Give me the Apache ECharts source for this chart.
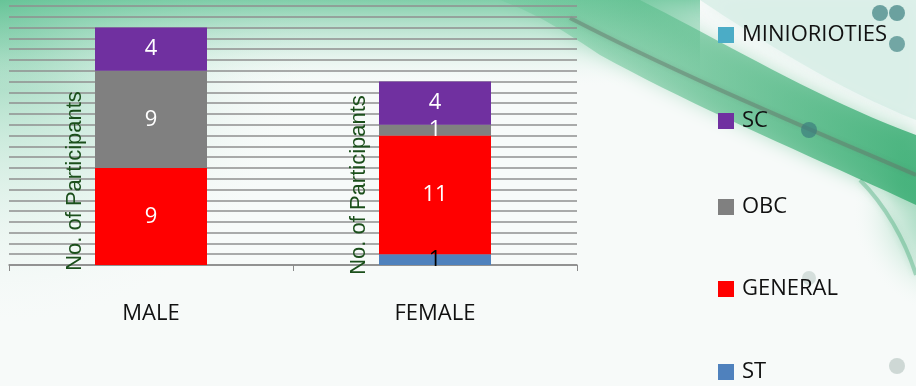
<!DOCTYPE html>
<html><head><meta charset="utf-8">
<script src="https://cdn.jsdelivr.net/npm/echarts@6/dist/echarts.min.js"></script>
<style>html,body{margin:0;padding:0;background:#fff}#c{width:916px;height:386px}</style>
</head><body><div id="c"></div>
<script>
var categories = ['MALE', 'FEMALE'];
var stVals = [0, 1];
var generalVals = [9, 11];
var obcVals = [9, 1];
var scVals = [4, 4];
var minorityVals = [0, 0];
var yTicks = {min: 0, max: 24, interval: 1};
var axisTitle = 'No. of Participants';
var legendTop = ['MINIORIOTIES', 'SC', 'OBC'];
var legendBottom = ['GENERAL', 'ST'];

// decorative background helper: sample cubic bezier segments into polygon points
function bez(p0, c1, c2, p1, n) {
  var pts = [];
  for (var i = 0; i <= n; i++) {
    var t = i / n, u = 1 - t;
    pts.push([u*u*u*p0[0] + 3*u*u*t*c1[0] + 3*u*t*t*c2[0] + t*t*t*p1[0],
              u*u*u*p0[1] + 3*u*u*t*c1[1] + 3*u*t*t*c2[1] + t*t*t*p1[1]]);
  }
  return pts;
}
var swoosh = [[520,0],[640,0]].concat(bez([640,0],[720,40],[820,100],[916,135],20))
  .concat([[916,205]]).concat(bez([916,205],[820,160],[700,110],[600,55],20))
  .concat(bez([600,55],[570,35],[540,15],[500,0],10));
var topRight = [[700,0],[916,0],[916,120]].concat(bez([916,120],[840,90],[760,40],[700,0],16));

var chart = echarts.init(document.getElementById('c'), null, {renderer: 'canvas'});
function lbl(color) {
  return {show: true, position: 'inside', color: color, fontSize: 22,
    fontFamily: 'Open Sans, sans-serif',
    formatter: function (p) { return p.value ? String(p.value) : ''; }};
}
function ser(name, data, color, lc) {
  return {name: name, type: 'bar', stack: 'a', data: data, barWidth: 112,
    itemStyle: {color: color}, label: lbl(lc || '#fff'), emphasis: {disabled: true}};
}
function legend(names, top, gap) {
  return {orient: 'vertical', left: 718, top: top, padding: 0, itemWidth: 16, itemHeight: 16, itemGap: gap,
    icon: 'rect', selectedMode: false,
    textStyle: {fontSize: 22, color: '#111', fontFamily: 'Open Sans, sans-serif', padding: [0, 0, 0, 3]},
    data: names};
}
var titleStyle = {text: axisTitle, fill: '#1b4f1b', font: '22px "Liberation Sans", Arial, sans-serif',
  align: 'center', verticalAlign: 'middle', shadowColor: 'rgba(0,0,0,0.3)', shadowBlur: 2, shadowOffsetX: 1, shadowOffsetY: 1};
var option = {
  animation: false,
  backgroundColor: '#f7faf9',
  graphic: [
    {type: 'rect', z: -10, silent: true, shape: {x: 0, y: 0, width: 916, height: 386},
      style: {fill: {type: 'radial', x: 0, y: 0, r: 340, global: true,
        colorStops: [{offset: 0, color: 'rgba(80,185,135,0.8)'}, {offset: 0.4, color: 'rgba(150,215,185,0.45)'}, {offset: 1, color: 'rgba(255,255,255,0)'}]}}},
    {type: 'rect', z: -10, silent: true, shape: {x: 0, y: 0, width: 700, height: 90},
      style: {fill: {type: 'linear', x: 0, y: 0, x2: 0, y2: 1,
        colorStops: [{offset: 0, color: 'rgba(100,195,150,0.8)'}, {offset: 0.5, color: 'rgba(150,215,185,0.35)'}, {offset: 1, color: 'rgba(255,255,255,0)'}]}}},
    {type: 'rect', z: -10, silent: true, shape: {x: 780, y: 150, width: 136, height: 200},
      style: {fill: {type: 'radial', x: 960, y: 210, r: 110, global: true,
        colorStops: [{offset: 0, color: 'rgba(60,175,120,0.8)'}, {offset: 0.6, color: 'rgba(120,200,160,0.3)'}, {offset: 1, color: 'rgba(255,255,255,0)'}]}}},
    {type: 'polygon', z: -9, silent: true, shape: {points: topRight},
      style: {fill: 'rgba(215,238,230,0.8)', shadowBlur: 20, shadowColor: 'rgba(215,238,230,0.8)'}},
    {type: 'polygon', z: -9, silent: true, shape: {points: swoosh},
      style: {fill: {type: 'linear', x: 0, y: 0, x2: 1, y2: 0,
        colorStops: [{offset: 0, color: 'rgba(110,200,155,0.35)'}, {offset: 0.5, color: 'rgba(70,180,125,0.55)'}, {offset: 1, color: 'rgba(50,170,110,0.8)'}]},
        shadowBlur: 18, shadowColor: 'rgba(80,185,130,0.6)'}},
    {type: 'bezierCurve', z: -8, silent: true,
      shape: {x1: 570, y1: 18, cpx1: 680, cpy1: 75, cpx2: 800, cpy2: 125, x2: 916, y2: 175},
      style: {fill: null, stroke: 'rgba(100,115,105,0.45)', lineWidth: 4, shadowBlur: 4, shadowColor: 'rgba(100,115,105,0.4)'}},
    {type: 'bezierCurve', z: -8, silent: true,
      shape: {x1: 860, y1: 180, cpx1: 885, cpy1: 205, cpx2: 905, cpy2: 240, x2: 916, y2: 275},
      style: {fill: null, stroke: 'rgba(50,160,105,0.35)', lineWidth: 4, shadowBlur: 6, shadowColor: 'rgba(50,160,105,0.4)'}},
    {type: 'circle', z: -7, silent: true, shape: {cx: 880, cy: 13, r: 8}, style: {fill: 'rgba(70,135,135,0.75)'}},
    {type: 'circle', z: -7, silent: true, shape: {cx: 897, cy: 13, r: 8}, style: {fill: 'rgba(70,135,135,0.75)'}},
    {type: 'circle', z: -7, silent: true, shape: {cx: 897, cy: 44, r: 8}, style: {fill: 'rgba(70,135,135,0.7)'}},
    {type: 'circle', z: -7, silent: true, shape: {cx: 809, cy: 130, r: 8}, style: {fill: 'rgba(60,125,125,0.7)'}},
    {type: 'circle', z: -7, silent: true, shape: {cx: 809, cy: 278, r: 7}, style: {fill: 'rgba(190,205,200,0.6)'}},
    {type: 'circle', z: -7, silent: true, shape: {cx: 897, cy: 366, r: 8}, style: {fill: 'rgba(195,208,204,0.8)'}},
    {type: 'text', z: 50, silent: true, x: 75, y: 181, rotation: Math.PI / 2, style: titleStyle},
    {type: 'text', z: 50, silent: true, x: 359, y: 185, rotation: Math.PI / 2, style: titleStyle}
  ],
  legend: [legend(legendTop, 24, 64), legend(legendBottom, 278, 61)],
  grid: {left: 9, right: 339, top: 6, bottom: 121, containLabel: false},
  xAxis: {type: 'category', data: categories,
    axisLine: {lineStyle: {color: '#8a8a8a', width: 1.5}},
    axisTick: {show: true, length: 6, lineStyle: {color: '#8a8a8a'}},
    axisLabel: {fontSize: 22, color: '#111', fontFamily: 'Open Sans, sans-serif', margin: 38}},
  yAxis: {type: 'value', min: yTicks.min, max: yTicks.max, interval: yTicks.interval,
    axisLabel: {show: false}, axisLine: {show: false}, axisTick: {show: false},
    splitLine: {lineStyle: {color: '#8f8f8f', width: 1.6}}},
  series: [
    ser('ST', stVals, '#4f81bd', '#000'),
    ser('GENERAL', generalVals, '#ff0000'),
    ser('OBC', obcVals, '#808080'),
    ser('SC', scVals, '#7030a0'),
    ser('MINIORIOTIES', minorityVals, '#4bacc6')
  ]
};
chart.setOption(option);
</script></body></html>
